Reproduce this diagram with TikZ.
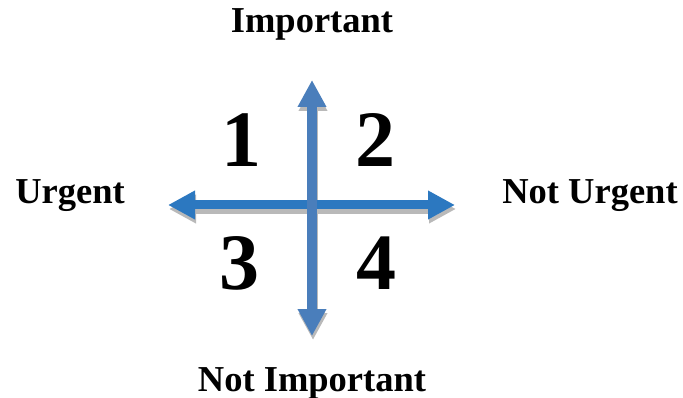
\documentclass[tikz,border=0pt]{standalone}
\usepackage{fontspec}
\setmainfont{Liberation Serif}
\usetikzlibrary{arrows.meta}
\definecolor{vblue}{RGB}{74,126,187}
\definecolor{hblue}{RGB}{44,120,192}
\definecolor{shade}{RGB}{185,185,185}
\tikzset{
  lbl/.style={font=\fontsize{36.5}{40}\selectfont\bfseries, inner sep=0pt, anchor=base},
  num/.style={font=\fontsize{80}{90}\selectfont\bfseries, inner sep=0pt, anchor=base},
  axis/.style={line width=10pt, {Triangle[width=27pt,length=27pt]}-{Triangle[width=27pt,length=27pt]}},
}
\begin{document}
\begin{tikzpicture}[x=1pt,y=-1pt]
\useasboundingbox (0,0) rectangle (683,398);
\coordinate (top) at (312,80);
\coordinate (bottom) at (312,336);
\coordinate (left) at (168,205);
\coordinate (right) at (455,205);
% shadows
\draw[axis, draw=shade, fill=shade] ([shift={(1,4)}]left) -- ([shift={(1,4)}]right);
\draw[axis, draw=shade, fill=shade] ([shift={(1,4)}]top) -- ([shift={(1,4)}]bottom);
% arrows
\draw[axis, draw=hblue, fill=hblue, line width=9pt] (left) -- (right);
\draw[axis, draw=vblue, fill=vblue] (top) -- (bottom);
% labels
\node[lbl] (imp) at (312,33) {Important};
\node[lbl] (nimp) at (312,391) {Not Important};
\node[lbl] (urg) at (70,204) {Urgent};
\node[lbl] (nurg) at (590,204) {Not Urgent};
\node[num] (q1) at (241,167) {1};
\node[num] (q2) at (375,167) {2};
\node[num] (q3) at (239,290) {3};
\node[num] (q4) at (376,290) {4};
\end{tikzpicture}
\end{document}
